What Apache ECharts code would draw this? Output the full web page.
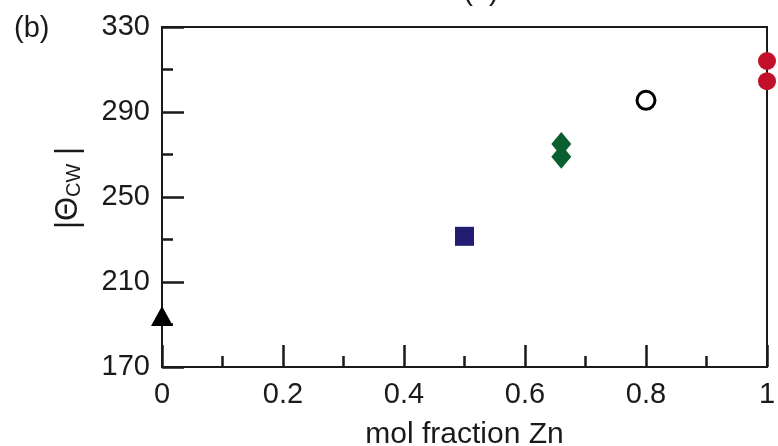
<!DOCTYPE html>
<html>
<head>
<meta charset="utf-8">
<script src="https://cdn.jsdelivr.net/npm/echarts@6/dist/echarts.min.js"></script>
<style>
  html, body { margin: 0; padding: 0; background: #fff; }
  #chart { width: 778px; height: 446px; }
</style>
</head>
<body>
<div id="chart"></div>
<script>
// |Θ_CW| versus Zn mole fraction, one series per compound
var xTicks = [0, 0.2, 0.4, 0.6, 0.8, 1];
var yTicks = [170, 210, 250, 290, 330];

var triangleData = [[0, 194]];
var squareData = [[0.5, 231.5]];
var diamondData = [[0.66, 275], [0.66, 269]];
var ringData = [[0.8, 295.5]];
var redData = [[1, 314], [1, 304.5]];

var FONT = '"Liberation Sans", Arial, Helvetica, sans-serif';
var INK = '#1a1a1a';

var chart = echarts.init(document.getElementById('chart'), null, { renderer: 'canvas' });

chart.setOption({
  animation: false,
  backgroundColor: '#ffffff',
  grid: {
    left: 162, right: 11, top: 27, bottom: 79,
    outerBoundsMode: 'none',
    containLabel: false,
    show: true, borderColor: INK, borderWidth: 2, backgroundColor: 'transparent'
  },
  xAxis: {
    type: 'value',
    min: xTicks[0], max: xTicks[xTicks.length - 1], interval: 0.2,
    name: 'mol fraction Zn',
    nameLocation: 'middle',
    nameGap: 53,
    nameTextStyle: { fontFamily: FONT, fontSize: 30, color: INK },
    axisLine: { show: true, onZero: false, lineStyle: { color: INK, width: 2 } },
    axisTick: { show: true, inside: true, length: 22, lineStyle: { color: INK, width: 2.5 } },
    minorTick: { show: true, splitNumber: 2, length: 11, lineStyle: { color: INK, width: 2.5 } },
    splitLine: { show: false },
    axisLabel: {
      fontFamily: FONT, fontSize: 29, color: INK, margin: 13,
      formatter: function (v) { return String(Math.round(v * 10) / 10); }
    }
  },
  yAxis: {
    type: 'value',
    min: yTicks[0], max: yTicks[yTicks.length - 1], interval: 40,
    axisLine: { show: true, onZero: false, lineStyle: { color: INK, width: 2 } },
    axisTick: { show: true, inside: true, length: 22, lineStyle: { color: INK, width: 2.5 } },
    minorTick: { show: true, splitNumber: 2, length: 11, lineStyle: { color: INK, width: 2.5 } },
    splitLine: { show: false },
    axisLabel: { fontFamily: FONT, fontSize: 29, color: INK, margin: 12 }
  },
  graphic: [
    {
      type: 'text', left: 14, top: 14,
      style: { text: '(b)', font: '29px ' + FONT, fill: INK }
    },
    {
      type: 'text', x: 481, y: 6,
      style: { text: '(b)', font: '29px ' + FONT, fill: INK, align: 'center', verticalAlign: 'bottom' }
    },
    {
      type: 'text', x: 68, y: 188, rotation: Math.PI / 2,
      style: {
        text: '{t||Θ}{s|CW}{t| |}',
        align: 'center', verticalAlign: 'middle',
        rich: {
          t: { fontFamily: FONT, fontSize: 31, fill: INK, lineHeight: 34 },
          s: { fontFamily: FONT, fontSize: 20, fill: INK, padding: [12, 0, 0, 0] }
        }
      }
    }
  ],
  series: [
    {
      type: 'scatter', data: triangleData, symbol: 'triangle', symbolSize: [22, 20],
      clip: false, itemStyle: { color: '#000000', opacity: 1 }, z: 5
    },
    {
      type: 'scatter', data: squareData, symbol: 'rect', symbolSize: 19,
      clip: false, itemStyle: { color: '#221d70', opacity: 1 }
    },
    {
      type: 'scatter', data: diamondData, symbol: 'diamond', symbolSize: [20, 24],
      clip: false, itemStyle: { color: '#0b5e30', opacity: 1 }
    },
    {
      type: 'scatter', data: ringData, symbol: 'circle', symbolSize: 18,
      clip: false, itemStyle: { color: '#ffffff', borderColor: '#000000', borderWidth: 3, opacity: 1 }
    },
    {
      type: 'scatter', data: redData, symbol: 'circle', symbolSize: 18,
      clip: false, itemStyle: { color: '#c2102a', opacity: 1 }, z: 5
    }
  ]
});
</script>
</body>
</html>
